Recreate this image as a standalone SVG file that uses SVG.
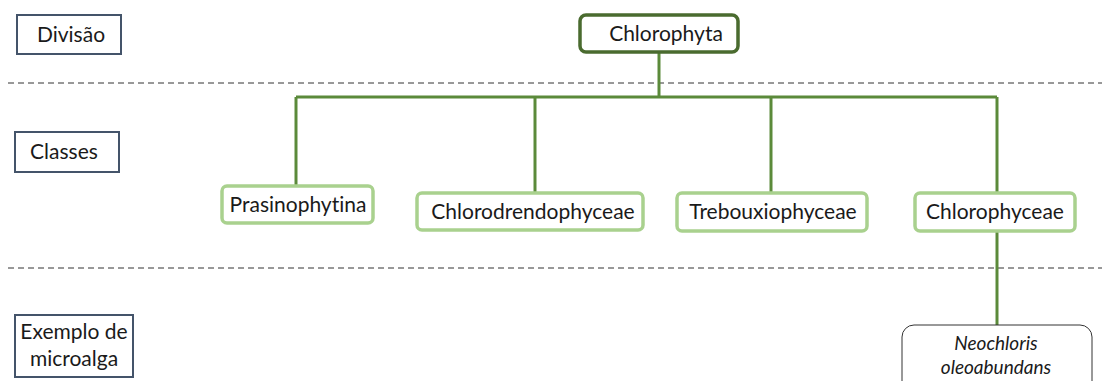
<svg xmlns="http://www.w3.org/2000/svg" width="1102" height="381" viewBox="0 0 1102 381">
<style>
.lbl{fill:#fff;stroke:#44546a;stroke-width:2}
.cls{fill:#fff;stroke:#a9d18e;stroke-width:3.5}
.top{fill:#fff;stroke:#4a6b2f;stroke-width:3.5}
.ex{fill:#fff;stroke:#333;stroke-width:1}
.t{font-family:Lato,"Open Sans",sans-serif;font-size:21px;fill:#1a1a1a;font-variant-ligatures:none}
.i{font-family:Lato,"Open Sans",sans-serif;font-size:19px;font-style:italic;fill:#1a1a1a;font-variant-ligatures:none}
.dash{stroke:#333;stroke-width:1;stroke-dasharray:6 4;fill:none}
.conn{stroke:#5b8a3a;stroke-width:3;fill:none}
</style>
<rect width="1102" height="381" fill="#fff"/>
<g id="guides">
<line class="dash" x1="8" y1="83" x2="1102" y2="83"/>
<line class="dash" x1="8" y1="268" x2="1102" y2="268"/>
</g>
<g id="label-divisao"><rect class="lbl" x="17" y="15" width="104" height="39"/><text class="t" x="71" y="42" text-anchor="middle">Divisão</text></g>
<g id="label-classes"><rect class="lbl" x="15" y="132" width="104" height="40"/><text class="t" x="64" y="159" text-anchor="middle">Classes</text></g>
<g id="label-exemplo"><rect class="lbl" x="15" y="315" width="118" height="62"/><text class="t" x="74" y="339" text-anchor="middle">Exemplo de</text><text class="t" x="74" y="366" text-anchor="middle">microalga</text></g>
<g id="connectors">
<line class="conn" x1="659" y1="52" x2="659" y2="97"/>
<line class="conn" x1="296" y1="97" x2="997" y2="97"/>
<line class="conn" x1="296" y1="97" x2="296" y2="186"/>
<line class="conn" x1="535" y1="97" x2="535" y2="193"/>
<line class="conn" x1="771" y1="97" x2="771" y2="193"/>
<line class="conn" x1="997" y1="97" x2="997" y2="193"/>
<line class="conn" x1="997" y1="231" x2="997" y2="325"/>
</g>
<g id="chlorophyta"><rect class="top" x="580" y="15" width="158" height="37" rx="6"/><text class="t" x="666" y="41" text-anchor="middle">Chlorophyta</text></g>
<g id="prasinophytina"><rect class="cls" x="222" y="186" width="151" height="37" rx="5"/><text class="t" x="298" y="212" text-anchor="middle">Prasinophytina</text></g>
<g id="chlorodrendophyceae"><rect class="cls" x="417" y="193" width="226" height="37" rx="5"/><text class="t" x="533" y="219" text-anchor="middle">Chlorodrendophyceae</text></g>
<g id="trebouxiophyceae"><rect class="cls" x="677" y="193" width="190" height="38" rx="5"/><text class="t" x="773" y="219" text-anchor="middle">Trebouxiophyceae</text></g>
<g id="chlorophyceae"><rect class="cls" x="915" y="193" width="160" height="38" rx="5"/><text class="t" x="995" y="219" text-anchor="middle">Chlorophyceae</text></g>
<g id="neochloris"><rect class="ex" x="902" y="325" width="190" height="70" rx="12"/><text class="i" x="996" y="350" text-anchor="middle">Neochloris</text><text class="i" x="996" y="374" text-anchor="middle">oleoabundans</text></g>
</svg>
